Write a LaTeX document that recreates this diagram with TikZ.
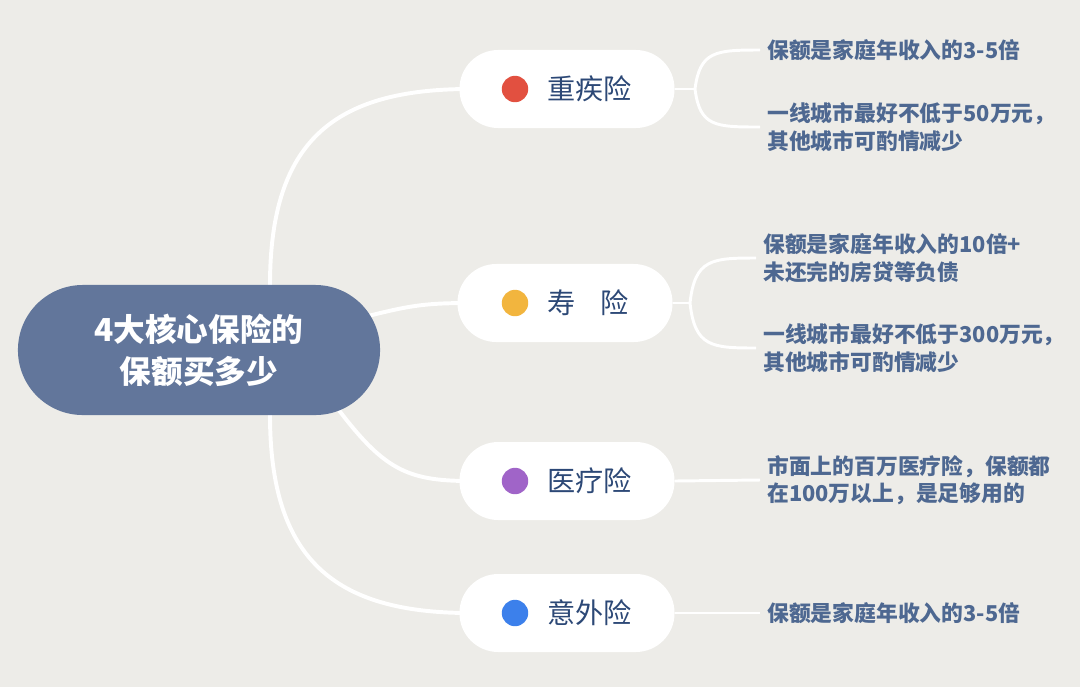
\documentclass[tikz,border=0pt]{standalone}
\usepackage{fontspec}
\setmainfont{Noto Sans CJK SC}
\usepackage{tikz}
\usetikzlibrary{positioning}
\definecolor{fond}{RGB}{237,236,232}
\definecolor{racine}{RGB}{98,118,155}
\definecolor{bleufonce}{RGB}{44,72,118}
\definecolor{bleufeuille}{RGB}{78,104,145}
\definecolor{rouge}{RGB}{226,80,64}
\definecolor{jaune}{RGB}{242,181,62}
\definecolor{violet}{RGB}{160,100,200}
\definecolor{bleu}{RGB}{60,128,235}

\begin{document}
\begin{tikzpicture}[x=0.025cm,y=-0.025cm,
    racinebox/.style={fill=racine, text=white, align=center, minimum width=9.05cm,
      minimum height=3.25cm, rounded corners=1.62cm,
      font=\fontsize{22.5}{30}\selectfont\bfseries},
    branche/.style={fill=white, minimum width=5.375cm, minimum height=1.95cm,
      rounded corners=0.97cm},
    pastille/.style={circle, minimum size=0.66cm, inner sep=0pt},
    titre/.style={anchor=west, inner sep=0pt, text=bleufonce,
      font=\fontsize{20}{24}\selectfont},
    feuille/.style={anchor=west, inner sep=0.175cm, align=left, text=bleufeuille,
      font=\fontsize{15.5}{19.5}\selectfont\bfseries},
    lien/.style={white, line width=2.8pt},
    petitlien/.style={white, line width=2.1pt}]

        % Fond
        \fill[fond] (0,0) rectangle (1080,687);
        \useasboundingbox (0,0) rectangle (1080,687);

        % Liens de la racine
        \coordinate (r1) at (270,285);
        \coordinate (r4) at (270,415);
        \coordinate (b1) at (470,89);
        \coordinate (b2) at (470,303);
        \coordinate (b3) at (470,481);
        \coordinate (b4) at (470,613);
        \draw[lien] (r1) .. controls +(0cm,3.6cm) and +(-3.4cm,0cm) .. (b1);
        \draw[lien] (360,318) .. controls +(1.2cm,0.3cm) and +(-1.2cm,0cm) .. (b2);
        \draw[lien] (335,405) .. controls +(1.2cm,-1.6cm) and +(-1.6cm,0cm) .. (b3);
        \draw[lien] (r4) .. controls +(0cm,-3.6cm) and +(-3.4cm,0cm) .. (b4);

        % Racine
        \node[racinebox] (root) at (199,350) {4大核心保险的\\保额买多少};

        % Branches
        \node[branche] (zj) at (567,89) {};
        \node[branche] (sx) at (565,303) {};
        \node[branche] (yl) at (567,481) {};
        \node[branche] (yw) at (567,613) {};

        \node[pastille, fill=rouge] (d1) at (515,89) {};
        \node[pastille, fill=jaune] (d2) at (515,303) {};
        \node[pastille, fill=violet] (d3) at (515,481) {};
        \node[pastille, fill=bleu] (d4) at (515,613) {};

        \node[titre] (t1) at (547,89) {重疾险};
        \node[titre] (t2) at (547,303) {寿\hspace{0.9em}险};
        \node[titre] (t3) at (547,481) {医疗险};
        \node[titre] (t4) at (547,613) {意外险};

        % Feuilles
        \node[feuille] (f11) at (760,50) {保额是家庭年收入的3-5倍};
        \node[feuille] (f12) at (760,127) {一线城市最好不低于50万元，\\其他城市可酌情减少};
        \node[feuille] (f21) at (756,258) {保额是家庭年收入的10倍+\\未还完的房贷等负债};
        \node[feuille] (f22) at (756,348) {一线城市最好不低于300万元，\\其他城市可酌情减少};
        \node[feuille] (f31) at (760,480) {市面上的百万医疗险，保额都\\在100万以上，是足够用的};
        \node[feuille] (f41) at (760,613) {保额是家庭年收入的3-5倍};

        % Liens des feuilles
        \coordinate (s1) at (695,89);
        \coordinate (s2) at (690,303);
        \draw[petitlien] (zj.east) -- (s1);
        \draw[petitlien] (s1) .. controls +(0.12cm,0.95cm) and +(-1.1cm,0cm) .. (f11.west);
        \draw[petitlien] (s1) .. controls +(0.12cm,-0.95cm) and +(-1.1cm,0cm) .. (f12.west);
        \draw[petitlien] (sx.east) -- (s2);
        \draw[petitlien] (s2) .. controls +(0.12cm,1.1cm) and +(-1.1cm,0cm) .. (f21.west);
        \draw[petitlien] (s2) .. controls +(0.12cm,-1.1cm) and +(-1.1cm,0cm) .. (f22.west);
        \draw[petitlien] (yl.east) -- (f31.west);
        \draw[petitlien] (yw.east) -- (f41.west);
\end{tikzpicture}
\end{document}
